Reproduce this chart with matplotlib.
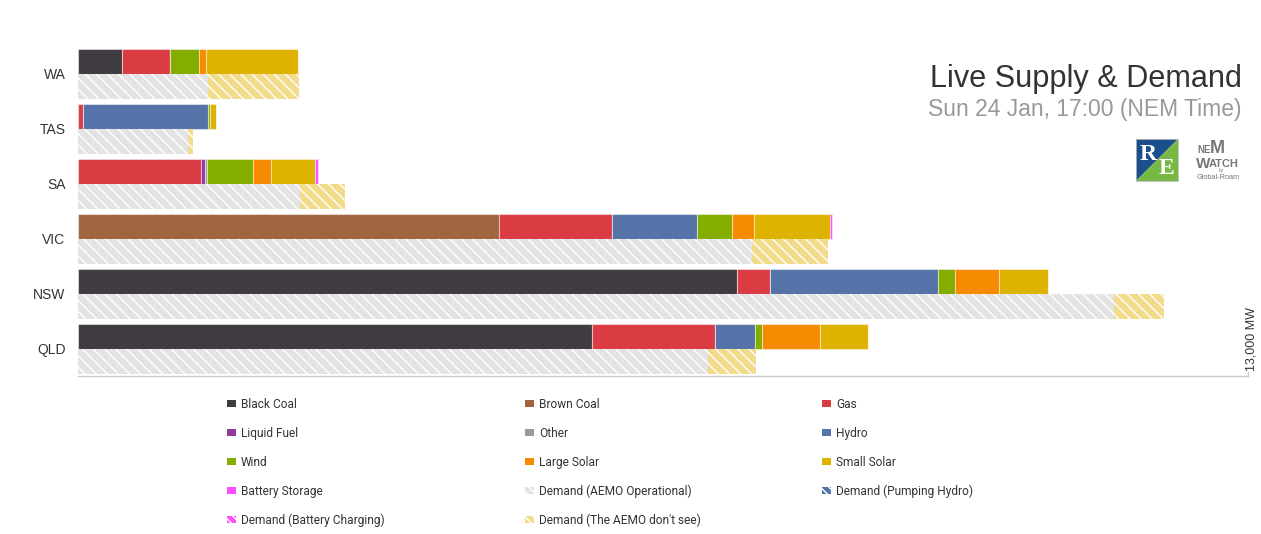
import numpy as np
import matplotlib.pyplot as plt
from matplotlib.patches import Rectangle, Polygon

# Регионы (сверху вниз)
regions = ['WA', 'TAS', 'SA', 'VIC', 'NSW', 'QLD']

# Генерация по видам топлива, МВт
black_coal = [489, 0, 0, 0, 7326, 5715]
brown_coal = [0, 0, 0, 4681, 0, 0]
gas = [538, 56, 1367, 1256, 367, 1367]
liquid_fuel = [0, 0, 49, 0, 0, 0]
other = [0, 0, 15, 0, 0, 0]
hydro = [0, 1386, 0, 937, 1867, 444]
wind = [318, 22, 511, 396, 189, 74]
large_solar = [78, 0, 200, 244, 481, 644]
small_solar = [1016, 74, 496, 844, 548, 533]
battery = [0, 0, 26, 19, 0, 0]

# Потребление, МВт
demand_operational = [1441, 1219, 2467, 7485, 11515, 6996]
demand_pumping = [0, 0, 0, 0, 0, 0]
demand_battery = [0, 0, 0, 0, 0, 0]
demand_unseen = [1011, 62, 497, 844, 548, 533]

x_max = 13000

supply = [
    ('Black Coal', black_coal, '#403b40'),
    ('Brown Coal', brown_coal, '#a0643f'),
    ('Gas', gas, '#db3c44'),
    ('Liquid Fuel', liquid_fuel, '#943a99'),
    ('Other', other, '#9a9a9a'),
    ('Hydro', hydro, '#5673a9'),
    ('Wind', wind, '#84ad00'),
    ('Large Solar', large_solar, '#f68b00'),
    ('Small Solar', small_solar, '#ddb300'),
    ('Battery Storage', battery, '#ff4dff'),
]
demand = [
    ('Demand (AEMO Operational)', demand_operational, '#e3e3e3'),
    ('Demand (Pumping Hydro)', demand_pumping, '#5673a9'),
    ('Demand (Battery Charging)', demand_battery, '#ff4dff'),
    ('Demand (The AEMO don\'t see)', demand_unseen, '#f2db8a'),
]

W, H = 1261, 534
fig = plt.figure(figsize=(W / 100, H / 100), dpi=100)
ax = fig.add_axes([78 / W, 1 - 376 / H, (1248 - 78) / W, (376 - 46.5) / H])

y = np.arange(len(regions))
h = 25 / 55

left = np.zeros(len(regions))
for name, vals, col in supply:
    vals = np.array(vals, dtype=float)
    ax.barh(y - h / 2, vals, height=h, left=left, color=col,
            edgecolor=(1, 1, 1, 0.45), linewidth=0.8)
    left += vals

left = np.zeros(len(regions))
for name, vals, col in demand:
    vals = np.array(vals, dtype=float)
    ax.barh(y + h / 2, vals, height=h, left=left, color=col,
            edgecolor='white', linewidth=0, hatch='\\\\\\')
    left += vals

ax.set_xlim(0, x_max)
ax.set_ylim(len(regions) - 0.5, -0.5)
ax.set_yticks(y)
ax.set_yticklabels(regions, fontsize=10, color='#333333', family='Liberation Sans')
ax.tick_params(axis='y', length=0, pad=9)
ax.set_xticks([])
for s in ['top', 'right', 'left']:
    ax.spines[s].set_visible(False)
ax.spines['bottom'].set_color('#cccccc')
ax.spines['bottom'].set_linewidth(1)

# Наложение в пиксельных координатах
ov = fig.add_axes([0, 0, 1, 1])
ov.set_xlim(0, W)
ov.set_ylim(H, 0)
ov.axis('off')
ov.patch.set_alpha(0)

ov.plot([1248, 1248], [372, 376], color='#cccccc', lw=1)
ov.text(1252, 371, '{:,} MW'.format(x_max), rotation=90, ha='center', va='bottom',
        fontsize=9, color='#333333', family='Liberation Sans')

ov.text(1242, 87, 'Live Supply & Demand', ha='right', va='baseline',
        fontsize=22.1, color='#333333', family='Liberation Sans')
ov.text(1242, 116, 'Sun 24 Jan, 17:00 (NEM Time)', ha='right', va='baseline',
        fontsize=16.5, color='#999999', family='Liberation Sans')

# Логотип RE
ov.add_patch(Polygon([(1136, 139), (1178, 139), (1136, 181)], closed=True,
                     facecolor='#1b4f8c', edgecolor='none'))
ov.add_patch(Polygon([(1178, 139), (1178, 181), (1136, 181)], closed=True,
                     facecolor='#76b843', edgecolor='none'))
ov.add_patch(Rectangle((1136, 139), 42, 42, facecolor='none', edgecolor='#bbbbbb', lw=0.6))
ov.text(1148, 155, 'R', ha='center', va='center', fontsize=17, color='white',
        family='Liberation Serif', weight='bold')
ov.text(1166, 168, 'E', ha='center', va='center', fontsize=17, color='white',
        family='Liberation Serif', weight='bold')

# Логотип NEM Watch
ov.text(1197, 153, 'NE', ha='left', va='baseline', fontsize=7, color='#777777',
        weight='bold', family='Liberation Sans')
ov.text(1210, 153, 'M', ha='left', va='baseline', fontsize=13, color='#777777',
        weight='bold', family='Liberation Sans')
ov.text(1196, 168, 'W', ha='left', va='baseline', fontsize=11, color='#777777',
        weight='bold', family='Liberation Sans')
ov.text(1209, 167, 'ATCH', ha='left', va='baseline', fontsize=8, color='#777777',
        weight='bold', family='Liberation Sans')
ov.text(1221, 172, 'by', ha='center', va='baseline', fontsize=3.5, color='#777777',
        family='Liberation Sans')
ov.text(1218, 179, 'Global-Roam', ha='center', va='baseline', fontsize=5.3, color='#777777',
        family='Liberation Sans')

# Легенда
entries = [(n, c, None) for n, v, c in supply] + [(n, c, '\\\\\\\\') for n, v, c in demand]
col_x = [227, 525, 822]
row_y = [403, 432, 461, 490, 519]
for k, (name, col, hatch) in enumerate(entries):
    cx = col_x[k % 3]
    cy = row_y[k // 3]
    if hatch:
        fc = '#e3e3e3' if 'Operational' in name else col
        ov.add_patch(Rectangle((cx, cy - 3.5), 9, 7, facecolor=fc, edgecolor='white',
                               lw=0, hatch=hatch))
    else:
        ov.add_patch(Rectangle((cx, cy - 3.5), 9, 7, facecolor=col, edgecolor='none'))
    ov.text(cx + 14, cy, name, ha='left', va='center_baseline', fontsize=8.6,
            color='#333333', family='Roboto')

fig.savefig('out.png', dpi=100)
